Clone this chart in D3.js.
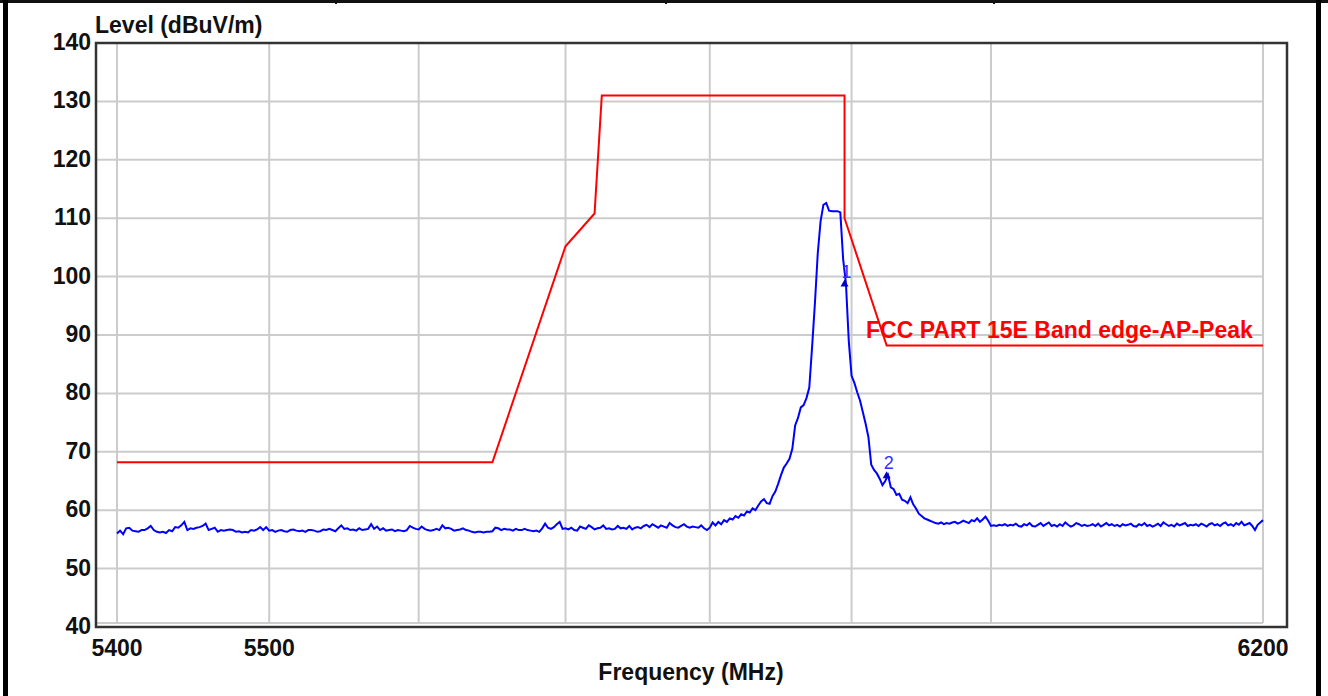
<!DOCTYPE html>
<html>
<head>
<meta charset="utf-8">
<script src="https://cdn.jsdelivr.net/npm/d3@7"></script>
<style>
  body { margin: 0; background: #fff; }
  svg { display: block; font-family: "Liberation Sans", Arial, sans-serif; font-weight: bold; }
</style>
</head>
<body>
<script>
/* global d3 */

// axis values
const yTicks = [40, 50, 60, 70, 80, 90, 100, 110, 120, 130, 140];
const xTickLabels = [5400, 5500, 6200];
const xGridFreqs = [5400, 5500, 5600, 5700, 5800, 5900, 6000, 6200];

// limit line (FCC mask)
const limitFreq  = [5400, 5650, 5700, 5720, 5725, 5895, 5895, 5925, 6200];
const limitLevel = [68.2, 68.2, 105.2, 110.8, 131, 131, 110, 88.2, 88.2];
const limitName = 'FCC PART 15E Band edge-AP-Peak';

// measured trace, 2 MHz sweep from 5400 MHz
const sweepStart = 5400;
const sweepStep = 2;
const traceLevel = [
  56.0, 56.5, 55.9, 56.9, 57.0, 56.5, 56.4, 56.3, 56.6, 56.6, 56.9, 57.3, 56.6, 56.3, 56.2, 56.3, 56.1, 56.6, 56.4, 57.1, 57.0, 57.4, 58.0, 56.6, 56.9,
  56.8, 57.0, 57.1, 57.3, 57.7, 56.6, 56.8, 57.0, 56.3, 56.6, 56.5, 56.6, 56.7, 56.6, 56.3, 56.4, 56.2, 56.3, 56.2, 56.6, 56.5, 56.7, 57.1, 56.6, 57.1,
  56.5, 56.6, 56.3, 56.5, 56.6, 56.4, 56.3, 56.6, 56.7, 56.5, 56.4, 56.5, 56.3, 56.6, 56.6, 56.5, 56.3, 56.4, 56.7, 56.6, 56.8, 56.6, 56.4, 56.9, 57.4,
  56.8, 56.9, 56.6, 56.7, 56.5, 56.9, 56.6, 56.7, 56.8, 57.6, 56.8, 57.2, 56.6, 56.9, 56.5, 56.6, 56.7, 56.4, 56.6, 56.5, 56.4, 56.6, 57.3, 57.0, 56.8,
  56.7, 57.2, 56.8, 56.6, 56.5, 56.6, 56.8, 56.6, 57.4, 56.9, 57.0, 56.8, 56.5, 56.6, 56.7, 56.9, 56.6, 56.5, 56.3, 56.2, 56.3, 56.3, 56.2, 56.3, 56.3,
  56.4, 57.0, 56.9, 56.6, 56.8, 56.7, 56.7, 56.5, 56.8, 56.6, 56.6, 56.8, 56.6, 56.5, 56.4, 56.5, 56.3, 56.9, 57.7, 57.0, 56.8, 57.1, 57.6, 58.0, 56.8,
  56.9, 56.7, 57.0, 56.6, 56.5, 57.2, 57.0, 56.8, 57.4, 57.1, 56.7, 56.9, 57.0, 57.4, 56.8, 56.9, 56.7, 56.8, 57.3, 56.9, 57.0, 56.8, 57.3, 56.7, 57.0,
  57.1, 56.9, 57.3, 57.5, 57.1, 57.6, 57.3, 57.0, 57.4, 57.2, 57.0, 57.8, 57.4, 57.1, 57.0, 57.3, 57.6, 57.2, 57.0, 57.2, 57.1, 57.0, 57.4, 56.9, 56.6,
  57.0, 57.9, 57.4, 58.0, 57.6, 58.3, 58.0, 58.6, 58.4, 59.0, 58.7, 59.3, 59.1, 59.8, 59.6, 60.3, 60.0, 60.8, 61.5, 61.9, 61.2, 61.1, 62.4, 63.2, 64.5,
  66.0, 67.3, 68.0, 68.8, 70.5, 74.5, 75.8, 77.6, 78.0, 79.2, 81.0, 88.0, 95.5, 104.0, 109.5, 112.3, 112.6, 111.3, 111.2, 111.2, 111.2, 111.0, 103.0, 98.8, 89.0,
  83.0, 81.8, 80.2, 78.8, 76.8, 74.8, 72.5, 67.8, 66.9, 66.3, 65.4, 64.3, 65.0, 66.0, 63.9, 63.6, 62.6, 62.8, 61.8, 61.6, 61.2, 62.2, 61.0, 60.3, 59.4,
  59.0, 58.6, 58.4, 58.2, 58.0, 57.8, 57.7, 57.9, 57.6, 57.8, 57.7, 57.9, 58.0, 57.7, 57.9, 58.2, 58.0, 57.8, 58.3, 58.1, 58.6, 58.0, 58.4, 58.9, 58.2,
  57.3, 57.4, 57.3, 57.5, 57.4, 57.6, 57.3, 57.5, 57.4, 57.7, 57.3, 57.2, 57.6, 57.4, 57.8, 57.3, 57.2, 57.5, 57.8, 57.3, 57.6, 57.9, 57.3, 57.5, 57.2,
  57.6, 57.3, 57.9, 57.5, 57.2, 57.4, 57.8, 57.6, 57.3, 57.5, 57.3, 57.4, 57.6, 57.3, 57.7, 57.2, 57.5, 57.8, 57.4, 57.6, 57.3, 57.5, 57.2, 57.6, 57.4,
  57.5, 57.7, 57.3, 57.2, 57.6, 57.4, 57.8, 57.3, 57.5, 57.2, 57.4, 57.7, 57.3, 57.9, 57.6, 57.3, 57.5, 57.2, 57.7, 57.4, 57.6, 57.8, 57.3, 57.5, 57.4,
  57.6, 57.3, 57.7, 57.5, 57.2, 57.6, 57.8, 57.4, 57.6, 57.3, 57.7, 57.9, 57.4, 57.6, 57.3, 57.8, 57.5, 58.0, 57.4, 57.6, 57.8, 57.3, 56.6, 57.5, 57.9,
  58.3
];

// markers
const markerName = ['1', '2'];
const markerFreq = [5895, 5925];
const markerLevel = [98.8, 66.0];

const width = 1328;
const height = 696;

const xScale = d3.scaleLog()
  .domain([5400, 6200])
  .range([117, 1263]);

const yScale = d3.scaleLinear()
  .domain([40, 140])
  .range([627, 43]);

const svg = d3.select('body')
  .append('svg')
  .attr('width', width)
  .attr('height', height);

// page table borders (the chart sits in a document table cell)
svg.append('rect').attr('x', 0).attr('y', 0).attr('width', width).attr('height', 3).attr('fill', '#111');
[335, 665, 993].forEach(x => {
  svg.append('rect').attr('x', x).attr('y', 0).attr('width', 2).attr('height', 4).attr('fill', '#111');
});
svg.append('rect').attr('x', 3).attr('y', 0).attr('width', 5).attr('height', height).attr('fill', '#000');
svg.append('rect').attr('x', 1316).attr('y', 0).attr('width', 5).attr('height', height).attr('fill', '#000');

// grid
const grid = svg.append('g')
  .attr('stroke', '#cccccc')
  .attr('stroke-width', 2);

grid.selectAll('.vgrid')
  .data(xGridFreqs)
  .join('line')
  .attr('x1', d => xScale(d))
  .attr('x2', d => xScale(d))
  .attr('y1', yScale(140))
  .attr('y2', yScale(40) - 4);

grid.selectAll('.hgrid')
  .data(yTicks.filter(d => d > 40 && d < 140))
  .join('line')
  .attr('x1', 97)
  .attr('x2', xScale(6200))
  .attr('y1', d => yScale(d))
  .attr('y2', d => yScale(d));

grid.append('line')
  .attr('x1', 97).attr('x2', xScale(6200))
  .attr('y1', yScale(40) - 4).attr('y2', yScale(40) - 4);

// plot frame
svg.append('rect')
  .attr('x', 96)
  .attr('y', yScale(140))
  .attr('width', 1287 - 96)
  .attr('height', yScale(40) - yScale(140))
  .attr('fill', 'none')
  .attr('stroke', '#333')
  .attr('stroke-width', 2.5);

// limit line
const limitData = limitFreq.map((f, i) => ({ f: f, v: limitLevel[i] }));
const line = d3.line()
  .x(d => xScale(d.f))
  .y(d => yScale(d.v));

svg.append('path')
  .datum(limitData)
  .attr('d', line)
  .attr('fill', 'none')
  .attr('stroke', '#ff0000')
  .attr('stroke-width', 2);

// trace
const traceData = traceLevel.map((v, i) => ({ f: sweepStart + i * sweepStep, v: v }));
svg.append('path')
  .datum(traceData)
  .attr('d', line)
  .attr('fill', 'none')
  .attr('stroke', '#0000ff')
  .attr('stroke-width', 2)
  .attr('stroke-linejoin', 'miter');

// markers
markerFreq.forEach((f, i) => {
  const mx = xScale(f);
  const my = yScale(markerLevel[i]);
  svg.append('path')
    .attr('d', `M${mx},${my - 4}L${mx + 4},${my + 3}L${mx - 4},${my + 3}Z`)
    .attr('fill', '#0000c0');
  svg.append('text')
    .text(markerName[i])
    .attr('x', mx + 2)
    .attr('y', my - 6)
    .attr('text-anchor', 'middle')
    .attr('font-size', 18)
    .attr('font-weight', 'normal')
    .attr('fill', '#3030ff');
});

// limit label
svg.append('text')
  .text(limitName)
  .attr('x', 866)
  .attr('y', 338)
  .attr('font-size', 23)
  .attr('fill', '#ff0000');

// y tick labels
svg.append('g')
  .selectAll('text')
  .data(yTicks)
  .join('text')
  .attr('x', 91)
  .attr('y', d => yScale(d) + 7)
  .attr('text-anchor', 'end')
  .attr('font-size', 23)
  .attr('fill', '#111')
  .text(d => d);

// x tick labels
svg.append('g')
  .selectAll('text')
  .data(xTickLabels)
  .join('text')
  .attr('x', d => xScale(d))
  .attr('y', 656)
  .attr('text-anchor', 'middle')
  .attr('font-size', 23)
  .attr('fill', '#111')
  .text(d => d);

// axis titles
svg.append('text')
  .text('Level (dBuV/m)')
  .attr('x', 95)
  .attr('y', 33)
  .attr('font-size', 23)
  .attr('fill', '#111');

svg.append('text')
  .text('Frequency (MHz)')
  .attr('x', 691)
  .attr('y', 680)
  .attr('text-anchor', 'middle')
  .attr('font-size', 23)
  .attr('fill', '#111');
</script>
</body>
</html>
